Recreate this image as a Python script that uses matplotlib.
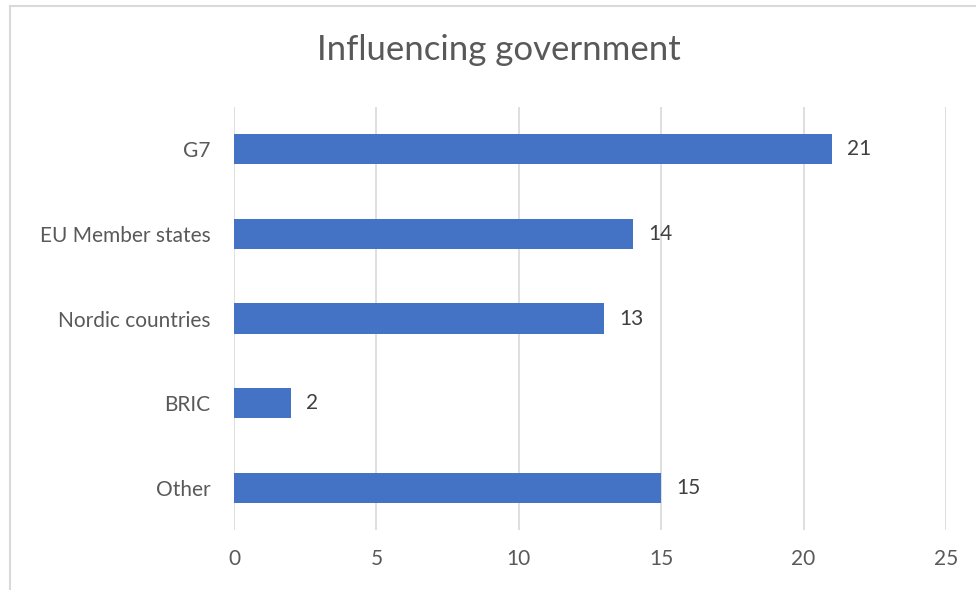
import matplotlib.pyplot as plt
from matplotlib.lines import Line2D

# data
categories = ['G7', 'EU Member states', 'Nordic countries', 'BRIC', 'Other']
values = [21, 14, 13, 2, 15]
xticks = [0, 5, 10, 15, 20, 25]

plt.rcParams['font.family'] = ['Lato', 'DejaVu Sans']

fig = plt.figure(figsize=(9.76, 5.9), dpi=100)
ax = fig.add_axes([234 / 976, 1 - 530 / 590, (946 - 234) / 976, (530 - 107) / 590])

ypos = list(range(len(categories)))
ax.barh(ypos, values, height=0.355, color='#4472C4', zorder=3)
ax.set_ylim(len(categories) - 0.5, -0.5)
ax.set_yticks(ypos)
ax.set_yticklabels(categories)
ax.set_xlim(0, 25)
ax.set_xticks(xticks)

for y, v in zip(ypos, values):
    ax.annotate(str(v), (v, y), xytext=(11, 0), textcoords='offset points',
                va='center', ha='left', fontsize=15, color='#404040')

ax.grid(axis='x', color='#d9d9d9', linewidth=1.2, zorder=0)
for s in ax.spines.values():
    s.set_visible(False)
ax.tick_params(axis='both', length=0, labelsize=15, labelcolor='#595959')
ax.tick_params(axis='x', pad=14)
ax.tick_params(axis='y', pad=17)

fig.text(499 / 976, 1 - 50 / 590, 'Influencing government', ha='center', va='center',
         fontsize=25, color='#595959')

# chart frame (partly cropped in the original)
fx = 10 / 976
fy = 1 - 6 / 590
fig.add_artist(Line2D([fx, 1], [fy, fy], color='#d9d9d9', linewidth=1.5, transform=fig.transFigure))
fig.add_artist(Line2D([fx, fx], [0, fy], color='#d9d9d9', linewidth=1.5, transform=fig.transFigure))

fig.savefig('out.png', dpi=100)
